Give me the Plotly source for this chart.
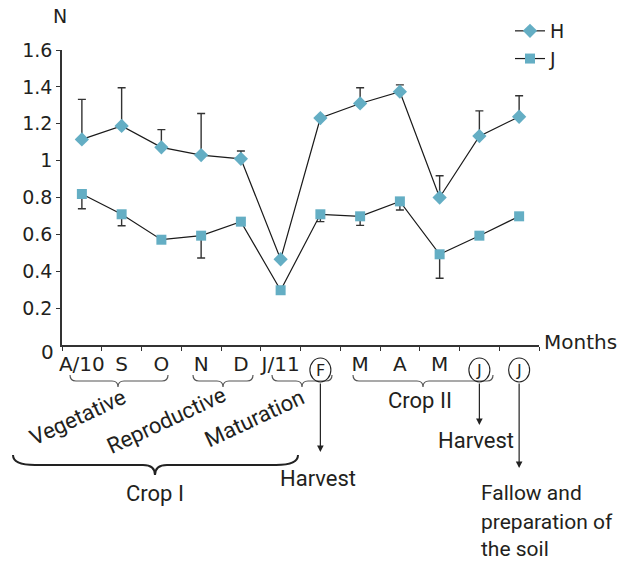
import plotly.graph_objects as go

# ---- data ----
months = ["A/10", "S", "O", "N", "D", "J/11", "F", "M", "A", "M", "J", "J"]
circled = [6, 10, 11]  # indices of circled month labels
H_values = [1.115, 1.188, 1.072, 1.03, 1.01, 0.465, 1.231, 1.31, 1.374, 0.80, 1.133, 1.238]
H_err_up = [0.217, 0.207, 0.096, 0.226, 0.042, 0.0, 0.0, 0.085, 0.037, 0.118, 0.137, 0.114]
J_values = [0.819, 0.709, 0.571, 0.593, 0.669, 0.297, 0.709, 0.698, 0.779, 0.492, 0.593, 0.698]
J_err_down = [0.08, 0.062, 0.0, 0.121, 0.0, 0.0, 0.04, 0.049, 0.047, 0.13, 0.0, 0.0]
y_ticks = [0.2, 0.4, 0.6, 0.8, 1.0, 1.2, 1.4, 1.6]
y_ticktext = ["0.2", "0.4", "0.6", "0.8", "1", "1.2", "1.4", "1.6"]

FONT = "Roboto"
NUMFONT = "DejaVu Sans"
TXT = "#231f20"
MK = "#64aec4"
AX = "#333333"

W, Hgt = 634, 564
L, R, T, B = 62, 539, 50, 345


def X(px):
    return (px - L) / (R - L)


def Y(py):
    return (B - py) / (B - T)


x_idx = list(range(len(months)))
tick_labels = ["" if i in circled else m for i, m in enumerate(months)]

fig = go.Figure()
fig.add_trace(go.Scatter(
    x=x_idx, y=H_values, name="H", mode="lines+markers",
    line=dict(color="#1a1a1a", width=1.2),
    marker=dict(symbol="diamond", size=11, color=MK),
    error_y=dict(type="data", symmetric=False, array=H_err_up,
                 arrayminus=[0] * len(H_err_up), color=AX, thickness=1.4, width=4),
))
fig.add_trace(go.Scatter(
    x=x_idx, y=J_values, name="J", mode="lines+markers",
    line=dict(color="#1a1a1a", width=1.2),
    marker=dict(symbol="square", size=10, color=MK),
    error_y=dict(type="data", symmetric=False, array=[0] * len(J_err_down),
                 arrayminus=J_err_down, color=AX, thickness=1.4, width=4),
))

shapes = []
annotations = []


def brace(x0, x1, xc, yt, ym, ytip, r=6, rc=6, width=1.2, color="#555555"):
    p = (f"M {X(x0)},{Y(yt)} Q {X(x0)},{Y(ym)} {X(x0 + r)},{Y(ym)} "
         f"L {X(xc - rc)},{Y(ym)} Q {X(xc)},{Y(ym)} {X(xc)},{Y(ytip)} "
         f"Q {X(xc)},{Y(ym)} {X(xc + rc)},{Y(ym)} "
         f"L {X(x1 - r)},{Y(ym)} Q {X(x1)},{Y(ym)} {X(x1)},{Y(yt)}")
    shapes.append(dict(type="path", path=p, xref="paper", yref="paper",
                       line=dict(color=color, width=width)))


# small braces under month labels
brace(70, 168, 118, 375, 381, 387)
brace(193, 253, 223, 375, 381, 387)
brace(272, 332, 302, 375, 381, 387)
brace(353, 493, 423, 375, 381, 387)
# Crop I brace
brace(13, 298, 155, 455, 465, 475, r=22, rc=12, width=2.0, color="#222222")

# circled month labels (text + circle)
for i in circled:
    shapes.append(dict(type="circle", xref="x", yref="paper", xsizemode="pixel",
                       xanchor=i, x0=-10.5, x1=10.5, y0=Y(382), y1=Y(358),
                       line=dict(color="#222222", width=1.1)))
    annotations.append(dict(text=months[i], x=i, y=Y(370), xref="x", yref="paper",
                            showarrow=False, xanchor="center", yanchor="middle",
                            font=dict(family=NUMFONT, size=16, color=TXT)))


def text(s, px, py, size=22, angle=0, xanchor="center", family=FONT):
    annotations.append(dict(text=s, x=X(px), y=Y(py), xref="paper", yref="paper",
                            showarrow=False, textangle=angle, xanchor=xanchor,
                            yanchor="middle", font=dict(family=family, size=size, color=TXT)))


text("N", 60, 16, size=19, family=NUMFONT)
text("Months", 542, 342, size=20, xanchor="left", family=NUMFONT)
text("0", 47, 352, size=20, family=NUMFONT)
text("Vegetative", 77, 417, angle=-25)
text("Reproductive", 166, 420, angle=-25)
text("Maturation", 254, 418, angle=-25)
text("Crop I", 155, 493)
text("Crop II", 420, 400)
text("Harvest", 318, 478)
text("Harvest", 476, 440)
text("Fallow and", 479, 493, size=21, xanchor="left")
text("preparation of", 479, 522, size=21, xanchor="left")
text("the soil", 479, 549, size=21, xanchor="left")


def arrow(i, py_tail, py_tip):
    annotations.append(dict(text="", x=i, y=Y(py_tip), xref="x", yref="paper",
                            ax=0, ay=-(py_tip - py_tail), showarrow=True,
                            arrowhead=2, arrowsize=1.1, arrowwidth=1.2, arrowcolor="#222222"))


arrow(6, 382, 452)
arrow(10, 382, 425)
arrow(11, 382, 468)

fig.update_layout(
    width=W, height=Hgt,
    margin=dict(l=L, r=W - R, t=T, b=Hgt - B),
    paper_bgcolor="white", plot_bgcolor="white",
    font=dict(family=FONT, size=20, color=TXT),
    showlegend=True,
    legend=dict(x=X(510), y=Y(12), xanchor="left", yanchor="top",
                bgcolor="rgba(0,0,0,0)", font=dict(family=NUMFONT, size=19), tracegroupgap=0,
                itemwidth=30),
    shapes=shapes, annotations=annotations,
)
fig.update_xaxes(
    range=[-0.5, len(months) - 0.5], tickmode="array", tickvals=x_idx, ticktext=tick_labels,
    ticks="", showline=True, linecolor=AX, linewidth=1.5, showgrid=False, zeroline=False,
    tickfont=dict(family=NUMFONT, size=20, color=TXT),
    minor=dict(tickmode="linear", tick0=-0.5, dtick=1, ticks="outside", ticklen=4,
               tickcolor=AX, tickwidth=1.3, showgrid=False),
)
fig.update_yaxes(
    range=[0, 1.6], tickmode="array", tickvals=y_ticks, ticktext=y_ticktext,
    ticks="outside", ticklen=4, tickcolor=AX, tickwidth=1.3,
    showline=True, linecolor=AX, linewidth=1.5, showgrid=False, zeroline=False,
    tickfont=dict(family=NUMFONT, size=19, color=TXT),
)

fig.write_html("out.html", config={"displayModeBar": False},
               post_script="document.body.style.margin='0';document.body.style.overflow='hidden';")
